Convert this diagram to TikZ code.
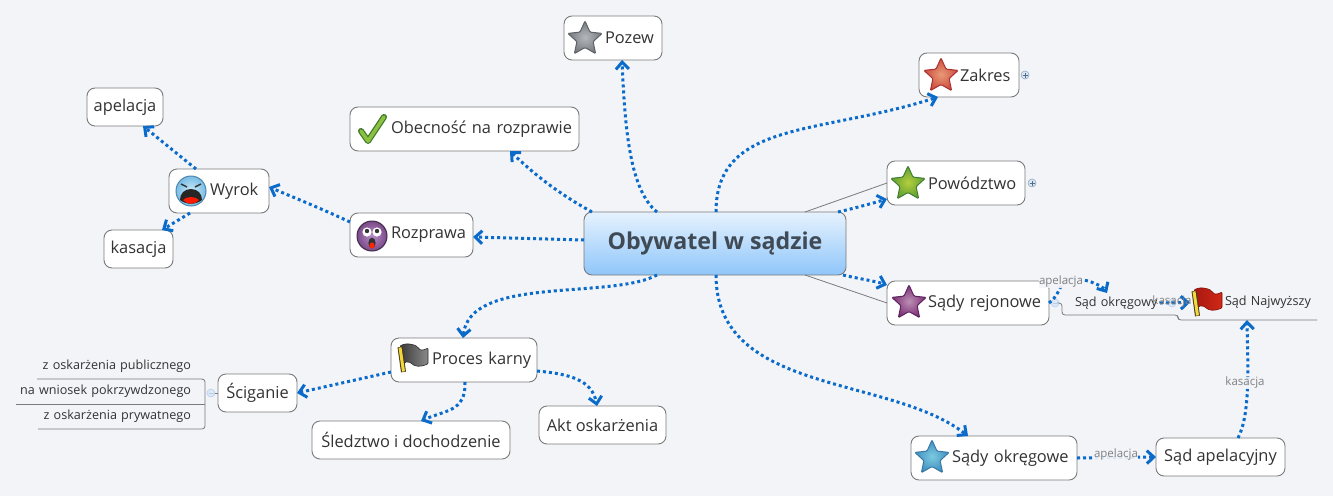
\documentclass[tikz,border=0pt]{standalone}
\usepackage{fontspec}
\setmainfont{Open Sans}
\usetikzlibrary{arrows.meta,calc}
\definecolor{bgc}{HTML}{F2F4F8}
\definecolor{linkc}{HTML}{0B6BCB}
\definecolor{edgec}{HTML}{7A7A7A}
\definecolor{txtc}{HTML}{333333}
\definecolor{lblc}{HTML}{808080}
\definecolor{ctop}{HTML}{E6F2FE}
\definecolor{cbot}{HTML}{8FC6FA}
\definecolor{ctxt}{HTML}{3F4A54}
\definecolor{mindraw}{HTML}{B8D0EC}
\definecolor{minfill}{HTML}{DCE8F6}
\definecolor{plsdraw}{HTML}{8FA8C4}
\definecolor{plsfill}{HTML}{DCE6F0}
\definecolor{plssign}{HTML}{4F6F90}
\definecolor{sGa}{HTML}{B4B8BC}\definecolor{sGb}{HTML}{767A7E}\definecolor{sGc}{HTML}{5E6266}
\definecolor{sRa}{HTML}{E89A78}\definecolor{sRb}{HTML}{CC4A3C}\definecolor{sRc}{HTML}{A83030}
\definecolor{sLa}{HTML}{B4CE3E}\definecolor{sLb}{HTML}{5E9E30}\definecolor{sLc}{HTML}{3F7F35}
\definecolor{sPa}{HTML}{BC8FB4}\definecolor{sPb}{HTML}{7A2E74}\definecolor{sPc}{HTML}{5F2460}
\definecolor{sBa}{HTML}{7CCAE0}\definecolor{sBb}{HTML}{3F8FBE}\definecolor{sBc}{HTML}{3A78A8}
\definecolor{fKa}{HTML}{3A3A3A}\definecolor{fKb}{HTML}{8A8A8A}\definecolor{fKc}{HTML}{2A2A2A}
\definecolor{fRa}{HTML}{A81810}\definecolor{fRb}{HTML}{D02818}\definecolor{fRc}{HTML}{801008}
\definecolor{chkd}{HTML}{3F7A2A}\definecolor{chkl}{HTML}{8CC040}
\definecolor{faPa}{HTML}{B88CC8}\definecolor{faPb}{HTML}{7A4A88}\definecolor{faPc}{HTML}{3F2A48}
\definecolor{faBa}{HTML}{CDEBFA}\definecolor{faBb}{HTML}{78BCE4}\definecolor{faBc}{HTML}{4F88B0}
\definecolor{poleo}{HTML}{4A3A18}\definecolor{polef}{HTML}{F2D83C}
\newcommand{\ik}[1]{\hspace*{41pt}\raisebox{-1pt}{#1}}
\newcommand{\mystar}[4]{\shade[shift={(#1)},inner color=#2,outer color=#3,draw=#4,line width=1pt,rounded corners=1pt]
 (0,-18)--(5,-6.9)--(17.1,-5.6)--(8.1,2.6)--(10.6,14.6)--(0,8.5)--(-10.6,14.6)--(-8.1,2.6)--(-17.1,-5.6)--(-5,-6.9)--cycle;}
\newcommand{\myflag}[4]{%
 \shade[shift={(#1)},left color=#2,right color=#3,draw=#4,line width=.6pt,rounded corners=1pt]
  (-13,-12) .. controls (-6,-16) and (4,-13) .. (6,-9) .. controls (9,-7) and (13,-9) .. (15,-10) -- (15,6) .. controls (8,9) and (2,9) .. (-2,5) .. controls (-5,3) and (-8,4) .. (-10,6) -- cycle;
 \draw[shift={(#1)},line width=5pt,poleo] (-13,-11) -- (-9.5,14);
 \draw[shift={(#1)},line width=3pt,polef] (-13,-10.5) -- (-9.5,13.5);}
\tikzset{
 box/.style={draw=edgec,fill=white,line width=.9pt,rounded corners=8pt,inner sep=0pt,outer sep=0pt,text=txtc,font=\fontsize{16.4}{19}\selectfont},
 iconbox/.style 2 args={box,text width=#1,minimum height=#2,align=left},
 plainbox/.style 2 args={box,minimum width=#1,minimum height=#2},
 subnode/.style 2 args={inner sep=0pt,outer sep=0pt,text width=#1,minimum height=#2,text=txtc,font=\fontsize{12.6}{14}\selectfont},
 lnk/.style={linkc,line width=3pt,dash pattern=on 3pt off 3pt,-{Straight Barb[length=7pt,width=13pt,line width=3pt]}},
 thinline/.style={edgec,line width=.8pt},
 lbl/.style={text=lblc,font=\fontsize{11.5}{13}\selectfont,inner sep=0pt,fill=bgc,fill opacity=.9,text opacity=1},
 lblfree/.style={text=lblc,font=\fontsize{11.5}{13}\selectfont,inner sep=0pt},
 minusbtn/.style={circle,minimum size=8pt,inner sep=0pt,draw=mindraw,fill=minfill,line width=.6pt},
 plusbtn/.style={circle,minimum size=8pt,inner sep=0pt,draw=plsdraw,fill=plsfill,line width=.6pt},
}
\begin{document}
\begin{tikzpicture}[x=1pt,y=-1pt]
\useasboundingbox (0,0) rectangle (1333,496);
\fill[bgc] (0,0) rectangle (1333,496);

% nodes
\node[box,top color=ctop,bottom color=cbot,minimum width=262,minimum height=63,font=\fontsize{23.2}{28}\selectfont\bfseries,text=ctxt] (nC) at (715,243.5) {Obywatel w sądzie};
\node[iconbox={98}{44}] (nPozew) at (613,38) {\ik{Pozew}};
\node[iconbox={100}{44}] (nZakres) at (969,75) {\ik{Zakres}};
\node[iconbox={138}{44}] (nPow) at (956,183) {\ik{Powództwo}};
\node[iconbox={162}{44}] (nRej) at (968,303) {\ik{Sądy rejonowe}};
\node[iconbox={166}{44}] (nOkr) at (994,458) {\ik{Sądy okręgowe}};
\node[plainbox={129}{38}] (nApel) at (1220.5,457) {Sąd apelacyjny};
\node[iconbox={229}{44}] (nOb) at (464.5,129) {\ik{Obecność na rozprawie}};
\node[iconbox={123}{44}] (nRoz) at (411.5,235) {\ik{Rozprawa}};
\node[iconbox={100}{44}] (nWyr) at (219,191) {\ik{Wyrok}};
\node[plainbox={76}{38}] (nApc) at (125,107) {apelacja};
\node[plainbox={69}{38}] (nKas) at (138.5,249) {kasacja};
\node[iconbox={146}{44}] (nProc) at (464,360) {\hspace*{41pt}Proces karny};
\node[plainbox={79}{38}] (nSci) at (257.5,393) {\raisebox{-1pt}{Ściganie}};
\node[plainbox={198}{38}] (nSle) at (411,440) {Śledztwo i dochodzenie};
\node[plainbox={127}{38}] (nAkt) at (602.5,425) {Akt oskarżenia};

% sub-topics of Ściganie
\node[subnode={168}{25},align=right] (nPub) at (121,366.5) {z oskarżenia publicznego\hspace*{14pt}};
\node[subnode={189}{25},align=right] (nWni) at (110.5,391.5) {na wniosek pokrzywdzonego\hspace*{14pt}};
\node[subnode={167}{25},align=right] (nPry) at (121.5,416.5) {z oskarżenia prywatnego\hspace*{14pt}};
\node[minusbtn] (tSci) at (211,393) {};
\draw[thinline] (tSci) -- (nSci.west);
\draw[thinline,rounded corners=3pt] (nPub.south west) -- (nPub.south east) -- (nPry.south east) -- (nPry.south west);
\draw[thinline] (nWni.south west) -- (nWni.south east);
\draw[mindraw,line width=.8pt] ([xshift=-2.5pt]tSci.center) -- ([xshift=2.5pt]tSci.center);

% right branch: courts
\node[subnode={116}{24},align=left] (nSOk) at (1120,303) {\hspace*{13pt}Sąd okręgowy};
\node[subnode={139}{35},align=left] (nSN) at (1247.5,302.5) {\hspace*{47pt}Sąd Najwyższy};
\node[minusbtn] (tRej) at (1055,303) {};
\draw[mindraw,line width=.8pt] ([xshift=-2.5pt]tRej.center) -- ([xshift=2.5pt]tRej.center);
\draw[thinline,rounded corners=3pt] (tRej.east) -- (nSOk.west) -- (nSOk.south west) -- (nSOk.south east) -- (nSN.south west) -- (nSN.south east);
\node[minusbtn] (tOk) at (1172,303) {};
\draw[thinline] ([xshift=90pt]nC.north) -- (nPow.west);
\draw[thinline] ([xshift=90pt]nC.south) -- (nRej.west);

% toggles for collapsed branches
\node[plusbtn] (tZak) at (1025,75) {};
\node[plusbtn] (tPow) at (1032,183) {};
\foreach \t in {tZak,tPow}{
 \draw[plssign,line width=.7pt] ([xshift=-2.5pt]\t.center) -- ([xshift=2.5pt]\t.center) ([yshift=-2.5pt]\t.center) -- ([yshift=2.5pt]\t.center);
}

% connectors
\draw[lnk] ([xshift=73pt]nC.north west) .. controls (630,190) and (625,130) .. ([xshift=58pt]nPozew.south west);
\draw[lnk] ([xshift=132pt]nC.north west) .. controls (716,120) and (820,135) .. ([xshift=19pt]nZakres.south west);
\draw[lnk] ([xshift=254pt]nC.north west) .. controls (855,208) and (870,204) .. ([yshift=6pt]nPow.south west);
\draw[lnk] ([xshift=259pt]nC.south west) .. controls (860,279) and (875,281) .. ([yshift=-4pt]nRej.north west);
\draw[lnk] ([xshift=132pt]nC.south west) .. controls (716,395) and (890,375) .. ([xshift=57pt]nOkr.north west);
\draw[lnk] ([xshift=73pt]nC.south west) .. controls (610,300) and (470,275) .. ([xshift=72pt]nProc.north west);
\draw[lnk] ([yshift=3.5pt]nC.west) -- ([yshift=-2pt]nRoz.east);
\draw[lnk] ([xshift=8pt]nC.north west) .. controls (565,197) and (540,180) .. ([xshift=160pt]nOb.south west);
\draw[lnk] ([yshift=13pt]nRoz.west) .. controls (320,208) and (295,198) .. ([yshift=4pt]nWyr.east);
\draw[lnk] ([xshift=27pt]nWyr.north west) -- ([xshift=56pt]nApc.south west);
\draw[lnk] ([xshift=21pt]nWyr.south west) -- ([xshift=58pt]nKas.north west);
\draw[lnk] ([yshift=-12pt]nProc.west) -- (nSci.east);
\draw[lnk] ([xshift=74pt]nProc.south west) .. controls (466,412) and (445,410) .. ([xshift=109pt]nSle.north west);
\draw[lnk] ([yshift=-11pt]nProc.east) .. controls (570,374) and (592,380) .. ([xshift=58pt]nAkt.north west);
\draw[lnk] (nOkr.east) -- (nApel.west);
\draw[lnk] ([xshift=82pt]nApel.north west) .. controls (1250,415) and (1248,370) .. ([xshift=69pt]nSN.south west);
\draw[lnk] (nRej.east) .. controls (1066,290) and (1055,272) .. (1088,281) .. controls (1098,284) and (1104,288) .. ([xshift=45pt,yshift=-2pt]nSOk.north west);
\draw[lnk] ([xshift=-18pt]nSOk.east) -- ([xshift=12pt]nSN.west);

% connector labels
\node[lbl] (lA1) at (1116,455) {apelacja};
\node[lbl] (lK1) at (1245,383) {kasacja};
\node[lbl] (lA2) at (1061,282) {apelacja};
\node[lblfree] (lK2) at (1172,302) {kasacja};

% icons
\mystar{585,39}{sGa}{sGb}{sGc}
\mystar{941,76}{sRa}{sRb}{sRc}
\mystar{908,184}{sLa}{sLb}{sLc}
\mystar{909,303}{sPa}{sPb}{sPc}
\mystar{932,458}{sBa}{sBb}{sBc}
\myflag{413,358}{fKa}{fKb}{fKc}
\myflag{1207,302}{fRa}{fRb}{fRc}
\draw[chkd,line width=6pt,line cap=round,line join=round] (361,131) -- (368,141) -- (384,117);
\draw[chkl,line width=3.6pt,line cap=round,line join=round] (361,131) -- (368,141) -- (384,117);
% Rozprawa face
\shade[inner color=faPa,outer color=faPb,draw=faPc,line width=1pt] (372,236) circle (15);
\fill[white] (367,232) circle (4.6) (377,232) circle (4.6);
\fill[black!80] (367,231) circle (2.2) (377,231) circle (2.2);
\fill[black!80] (372,243) ellipse (3.6 and 5.5);
\fill[red!70!orange] (372,245.5) ellipse (2.6 and 3);
% Wyrok face
\shade[inner color=faBa,outer color=faBb,draw=faBc,line width=1pt] (191,191) circle (15);
\draw[black!80,line width=1.5pt] (181,184) -- (187,187) (201,184) -- (195,187);
\fill[black!85] (191,189) .. controls (198,189) and (202,194) .. (202,200) .. controls (195,205) and (187,205) .. (180,200) .. controls (180,194) and (184,189) .. (191,189) -- cycle;
\fill[red!80!orange] (183,200) .. controls (187,196) and (195,196) .. (199,200) .. controls (195,205) and (187,205) .. (183,200) -- cycle;
\end{tikzpicture}
\end{document}
